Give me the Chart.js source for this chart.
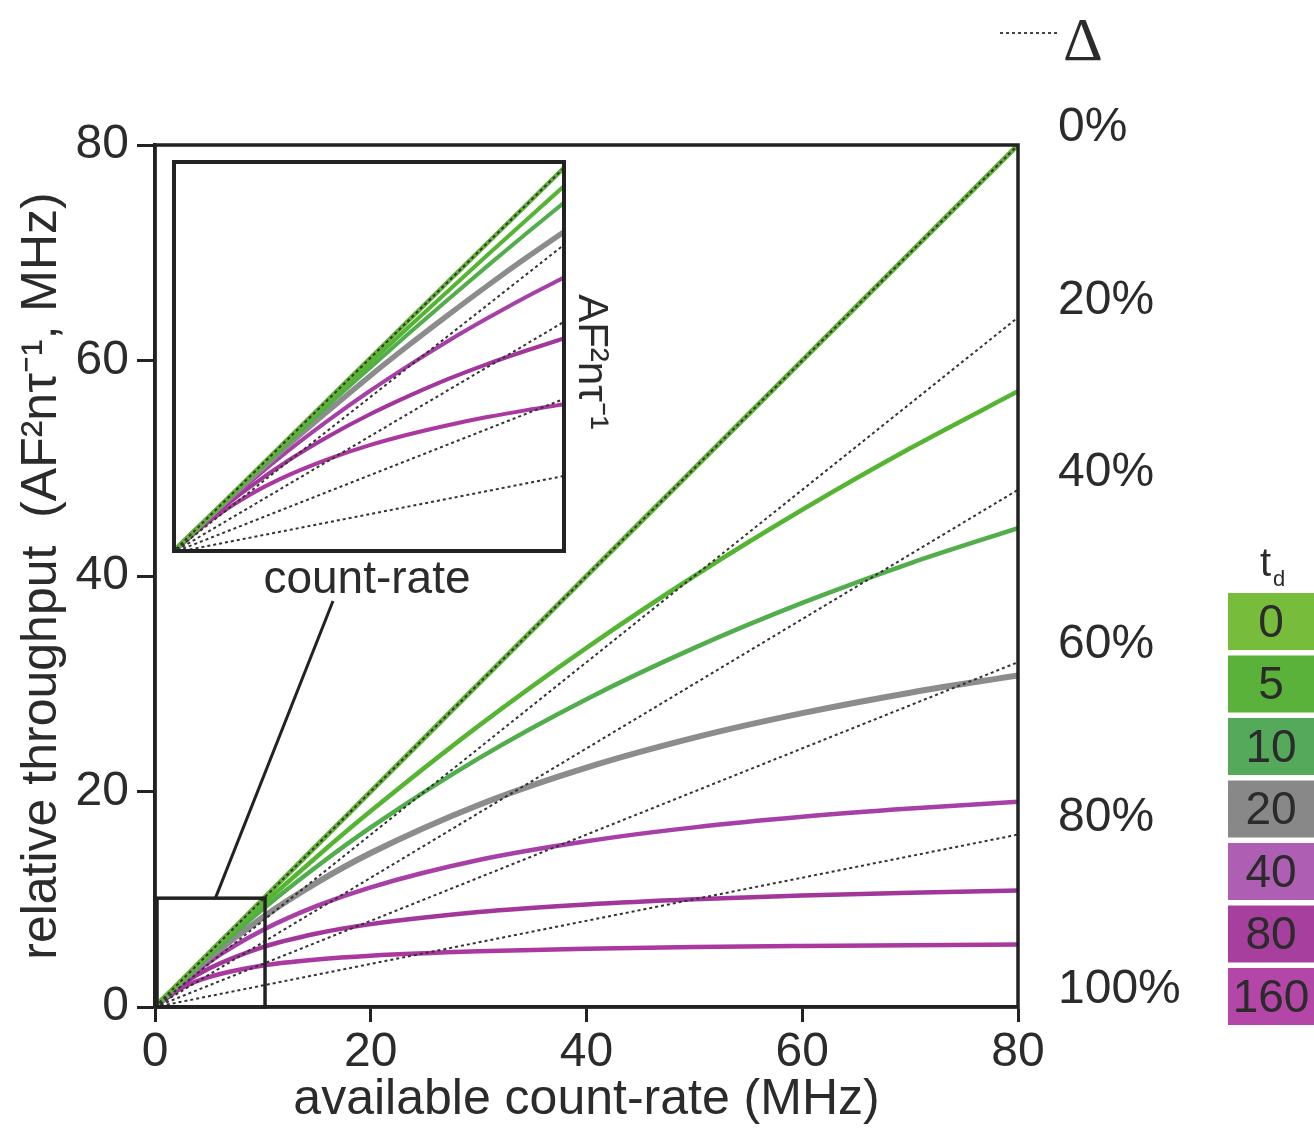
<!DOCTYPE html>
<html>
<head>
<meta charset="utf-8">
<script src="https://cdn.jsdelivr.net/npm/chart.js@4"></script>
<style>
  body { margin: 0; background: #fff; }
  #wrap { position: relative; width: 1314px; height: 1139px; overflow: hidden; }
  #mainChart { position: absolute; left: 0; top: 0; }
  #insetChart { position: absolute; left: 172px; top: 160px; }
</style>
</head>
<body>
<div id="wrap">
  <canvas id="mainChart" width="1314" height="1139"></canvas>
  <canvas id="insetChart" width="394" height="393"></canvas>
</div>
<script>
// ---- data ----
const tdLabels = ["0", "5", "10", "20", "40", "80", "160"];

const rateMHz   = [0, 2.5, 5, 10, 15, 20, 30, 40, 50, 60, 70, 80];
const tput0     = [0, 2.5, 5, 10, 15, 20, 30, 40, 50, 60, 70, 80];
const tput5     = [0, 2.47, 4.88, 9.52, 13.95, 18.18, 26.09, 33.33, 40.0, 46.15, 51.85, 57.14];
const tput10    = [0, 2.44, 4.76, 9.09, 13.04, 16.67, 23.08, 28.57, 33.33, 37.5, 41.18, 44.44];
const tput20    = [0, 2.38, 4.55, 8.33, 11.54, 14.29, 18.75, 22.22, 25.0, 27.27, 29.17, 30.77];
const tput40    = [0, 2.27, 4.17, 7.14, 9.38, 11.11, 13.64, 15.38, 16.67, 17.65, 18.42, 19.05];
const tput80    = [0, 2.08, 3.57, 5.56, 6.82, 7.69, 8.82, 9.52, 10.0, 10.34, 10.61, 10.81];
const tput160   = [0, 1.79, 2.78, 3.85, 4.41, 4.76, 5.17, 5.41, 5.56, 5.66, 5.74, 5.80];

// inset: zoom of the 0-10 MHz corner
const insetRate    = [0, 1, 2, 3, 4, 5, 6, 7, 8, 9, 10];
const insetTput0   = [0, 1, 2, 3, 4, 5, 6, 7, 8, 9, 10];
const insetTput5   = [0, 0.99, 1.98, 2.96, 3.92, 4.88, 5.83, 6.76, 7.69, 8.61, 9.52];
const insetTput10  = [0, 0.99, 1.96, 2.91, 3.85, 4.76, 5.66, 6.54, 7.41, 8.26, 9.09];
const insetTput20  = [0, 0.98, 1.92, 2.83, 3.70, 4.55, 5.36, 6.14, 6.90, 7.63, 8.33];
const insetTput40  = [0, 0.96, 1.85, 2.68, 3.45, 4.17, 4.84, 5.47, 6.06, 6.62, 7.14];
const insetTput80  = [0, 0.93, 1.72, 2.42, 3.03, 3.57, 4.05, 4.49, 4.88, 5.23, 5.56];
const insetTput160 = [0, 0.86, 1.52, 2.03, 2.44, 2.78, 3.06, 3.30, 3.51, 3.69, 3.85];

// dotted loss lines (Δ)
const deltaLabels = ["0%", "20%", "40%", "60%", "80%", "100%"];
const deltaAt80   = [80, 64, 48, 32, 16, 0];
const deltaEndX   = 81.6;
const deltaEnd    = [81.6, 65.3, 49.0, 32.6, 16.3, 0];
const insetDeltaAt10 = [10, 8, 6, 4, 2, 0];

const zoomBoxX = [0, 10.2];
const zoomBoxY = [0, 10.1];

// ---- styles ----
const curveColors  = ["#62b338", "#55b532", "#52ad4c", "#8c8c8c", "#a63fa6", "#a2369a", "#aa389f"];
const curveWidths  = [5, 4.5, 4.5, 6, 4.5, 4.5, 4.5];
const legendColors = ["#78bc3c", "#5bb23a", "#55a95a", "#888888", "#ae5fb4", "#a63f9e", "#b446a8"];
const FONT = "'Liberation Sans', Arial, sans-serif";
const INK = "#2b2b2b";

function toPoints(xs, ys) {
  return xs.map((x, i) => ({ x: x, y: ys[i] }));
}

function curveSets(xs, series, widthScale) {
  return series.map((ys, i) => ({
    data: toPoints(xs, ys),
    borderColor: curveColors[i],
    borderWidth: curveWidths[i] * widthScale,
    pointRadius: 0,
    cubicInterpolationMode: "monotone",
    order: 2
  }));
}

function dottedSet(pts, clip) {
  return {
    data: pts,
    borderColor: "#333",
    borderWidth: 2,
    borderDash: [3, 3],
    pointRadius: 0,
    order: 0,
    clip: clip
  };
}

// ============================
const mainSeries = [tput0, tput5, tput10, tput20, tput40, tput80, tput160];
const mainSets = curveSets(rateMHz, mainSeries, 1);
deltaAt80.forEach((v, i) => {
  mainSets.push(dottedSet([{ x: 0, y: 0 }, { x: 80, y: v }, { x: deltaEndX, y: deltaEnd[i] }], 30));
});

const mainDecor = {
  id: "mainDecor",
  afterDraw(chart) {
    const ctx = chart.ctx;
    const a = chart.chartArea;
    const xs = chart.scales.x, ys = chart.scales.y;
    ctx.save();

    // frame
    ctx.strokeStyle = "#222";
    ctx.lineWidth = 3.5;
    ctx.strokeRect(a.left, a.top, a.right - a.left, a.bottom - a.top);

    // zoom box + connector
    const bx0 = xs.getPixelForValue(zoomBoxX[0]), bx1 = xs.getPixelForValue(zoomBoxX[1]);
    const by0 = ys.getPixelForValue(zoomBoxY[0]), by1 = ys.getPixelForValue(zoomBoxY[1]);
    ctx.strokeRect(bx0 + 2, by1, bx1 - bx0 - 2, by0 - by1);
    ctx.lineWidth = 3;
    ctx.beginPath();
    ctx.moveTo(xs.getPixelForValue(5.6), by1);
    ctx.lineTo(333, 601);
    ctx.stroke();

    ctx.fillStyle = INK;
    ctx.font = "46px " + FONT;
    ctx.textAlign = "center";
    ctx.textBaseline = "middle";
    ctx.fillText("count-rate", 367, 580);

    // inset axis label, rotated
    ctx.save();
    ctx.translate(579, 362);
    ctx.rotate(Math.PI / 2);
    ctx.textAlign = "center";
    ctx.textBaseline = "alphabetic";
    ctx.font = "42px " + FONT;
    ctx.fillText("AF²nτ⁻¹", 0, 0);
    ctx.restore();

    // Δ labels at line ends
    ctx.font = "48px " + FONT;
    ctx.textAlign = "left";
    ctx.textBaseline = "middle";
    deltaLabels.forEach((t, i) => {
      const y = ys.getPixelForValue(deltaAt80[i]) - 17;
      ctx.fillText(t, xs.getPixelForValue(80) + 40, y);
    });

    // Δ key
    ctx.strokeStyle = "#444";
    ctx.lineWidth = 2;
    ctx.setLineDash([3, 3]);
    ctx.beginPath();
    ctx.moveTo(1000, 33);
    ctx.lineTo(1058, 33);
    ctx.stroke();
    ctx.setLineDash([]);
    ctx.font = "62px 'Liberation Serif', 'DejaVu Serif', serif";
    ctx.textBaseline = "alphabetic";
    ctx.fillText("Δ", 1063, 60);

    // td key
    ctx.font = "40px " + FONT;
    ctx.fillText("t", 1260, 576);
    ctx.font = "22px " + FONT;
    ctx.fillText("d", 1273, 586);
    tdLabels.forEach((t, i) => {
      const y = 593 + i * 62.5;
      ctx.fillStyle = legendColors[i];
      ctx.fillRect(1228, y, 100, 57);
      ctx.fillStyle = INK;
      ctx.font = "46px " + FONT;
      ctx.textAlign = "center";
      ctx.textBaseline = "middle";
      ctx.fillText(t, 1271, y + 31);
      ctx.textAlign = "left";
      ctx.textBaseline = "alphabetic";
    });

    ctx.restore();
  }
};

function axisOpts(title, isY) {
  return {
    type: "linear",
    min: 0,
    max: 80,
    ticks: {
      stepSize: 20,
      color: INK,
      padding: isY ? 8 : 2,
      font: { family: FONT, size: 48 }
    },
    grid: {
      drawOnChartArea: false,
      drawTicks: true,
      tickLength: isY ? 18 : 15,
      tickWidth: 3,
      tickColor: "#222"
    },
    border: { display: true, width: 3.5, color: "#222" },
    title: {
      display: true,
      text: title,
      color: INK,
      font: { family: FONT, size: 50 },
      padding: isY ? { top: 12, bottom: 0 } : { top: 0, bottom: 9 }
    },
    afterFit(scale) {
      if (isY) scale.width = 155;
      else scale.height = 132;
    }
  };
}

new Chart(document.getElementById("mainChart"), {
  type: "line",
  data: { datasets: mainSets },
  options: {
    responsive: false,
    animation: false,
    layout: { padding: { top: 145, right: 296, left: 0, bottom: 0 } },
    plugins: { legend: { display: false }, tooltip: { enabled: false } },
    scales: {
      x: axisOpts("available count-rate (MHz)", false),
      y: axisOpts("relative throughput  (AF²nτ⁻¹, MHz)", true)
    }
  },
  plugins: [mainDecor]
});

// ============================
const insetSeries = [insetTput0, insetTput5, insetTput10, insetTput20, insetTput40, insetTput80, insetTput160];
const insetSets = curveSets(insetRate, insetSeries, 0.9);
insetDeltaAt10.forEach(v => {
  insetSets.push(dottedSet([{ x: 0, y: 0 }, { x: 10, y: v }], 0));
});

const insetFrame = {
  id: "insetFrame",
  afterDraw(chart) {
    const ctx = chart.ctx;
    ctx.save();
    ctx.strokeStyle = "#222";
    ctx.lineWidth = 4;
    ctx.strokeRect(2, 2, chart.width - 4, chart.height - 4);
    ctx.restore();
  }
};

new Chart(document.getElementById("insetChart"), {
  type: "line",
  data: { datasets: insetSets },
  options: {
    responsive: false,
    animation: false,
    layout: { padding: 0 },
    plugins: { legend: { display: false }, tooltip: { enabled: false } },
    scales: {
      x: { type: "linear", display: false, min: 0, max: 10 },
      y: { type: "linear", display: false, min: 0, max: 10.15 }
    }
  },
  plugins: [insetFrame]
});
</script>
</body>
</html>
